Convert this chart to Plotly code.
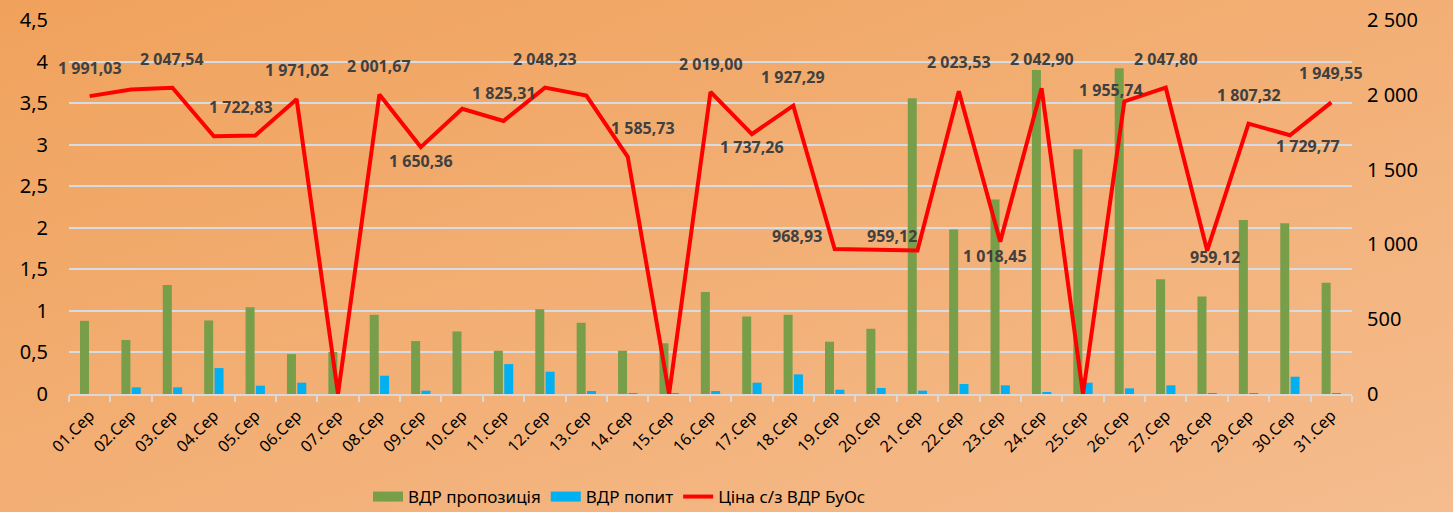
import base64
import plotly.graph_objects as go

# ---------------- data ----------------
days = [f"{d:02d}.Сер" for d in range(1, 32)]

supply = [0.88, 0.65, 1.31, 0.885, 1.045, 0.48, 0.505, 0.953, 0.637, 0.753,
          0.52, 1.02, 0.857, 0.52, 0.61, 1.226, 0.933, 0.953, 0.629, 0.785,
          3.557, 1.978, 2.339, 3.898, 2.945, 3.918, 1.382, 1.173, 2.095, 2.055,
          1.338]

demand = [0.0, 0.08, 0.08, 0.312, 0.10, 0.136, 0.0, 0.22, 0.04, 0.0,
          0.36, 0.268, 0.036, 0.005, 0.005, 0.036, 0.136, 0.236, 0.052, 0.072,
          0.04, 0.12, 0.104, 0.024, 0.136, 0.068, 0.104, 0.005, 0.005, 0.208,
          0.01]

price = [1991.03, 2036.0, 2047.54, 1722.83, 1728.0, 1971.02, 0.0, 2001.67, 1650.36, 1906.0,
         1825.31, 2048.23, 1995.0, 1585.73, 0.0, 2019.00, 1737.26, 1927.29, 968.93, 964.0,
         959.12, 2023.53, 1018.45, 2042.90, 0.0, 1955.74, 2047.80, 959.12, 1807.32, 1729.77,
         1949.55]

labeled_days = [1, 3, 4, 6, 8, 9, 11, 12, 14, 16, 17, 18, 19, 21, 22, 23, 24, 26,
                27, 28, 29, 30, 31]

left_ticks = [0, 0.5, 1, 1.5, 2, 2.5, 3, 3.5, 4, 4.5]
right_ticks = [0, 500, 1000, 1500, 2000, 2500]

series_names = ["ВДР пропозиція", "ВДР попит", "Ціна с/з ВДР БуОс"]

# label placement offsets (xshift, yshift) in px -- styling only
label_offsets = {
    1: (0, 28), 3: (0, 29), 4: (27, 29), 6: (0, 29), 8: (0, 29), 9: (0, -14),
    11: (0, 28), 12: (0, 29), 14: (15, 29), 16: (0, 28), 17: (0, -13),
    18: (0, 29), 19: (-38, 13), 21: (-25, 15), 22: (0, 29), 23: (-5, -14),
    24: (0, 29), 26: (-13, 11), 27: (0, 29), 28: (8, -6), 29: (0, 29),
    30: (18, -11), 31: (0, 29),
}

# ---------------- style ----------------
W, H = 1453, 512
ML, MR, MT, MB = 69, 101, 20, 118
PW, PH = W - ML - MR, H - MT - MB

GREEN = "#789E4A"
BLUE = "#00B0F0"
RED = "#FF0000"
FONT = "Noto Sans"


def fmt(v):
    s = f"{v:,.2f}"
    return s.replace(",", " ").replace(".", ",")


fig = go.Figure()

fig.add_trace(go.Bar(x=days, y=supply, name=series_names[0], marker_color=GREEN,
                     marker_line_width=0, showlegend=False, yaxis="y"))
fig.add_trace(go.Bar(x=days, y=demand, name=series_names[1], marker_color=BLUE,
                     marker_line_width=0, showlegend=False, yaxis="y"))

# legend swatches
fig.add_trace(go.Scatter(x=[days[0]], y=[None], mode="lines", name=series_names[0],
                         line=dict(color=GREEN, width=12), yaxis="y"))
fig.add_trace(go.Scatter(x=[days[0]], y=[None], mode="lines", name=series_names[1],
                         line=dict(color=BLUE, width=12), yaxis="y"))

fig.add_trace(go.Scatter(x=days, y=price, mode="lines", name=series_names[2],
                         line=dict(color=RED, width=4), yaxis="y2", cliponaxis=False))

annotations = []
for d in labeled_days:
    xs, ys = label_offsets[d]
    annotations.append(dict(
        x=days[d - 1], y=price[d - 1], xref="x", yref="y2",
        text=f"<b>{fmt(price[d - 1])}</b>", showarrow=False,
        xshift=xs, yshift=ys,
        font=dict(family=FONT, size=16, color="#404040"),
    ))

svg = (
    f'<svg xmlns="http://www.w3.org/2000/svg" width="{W}" height="{H}">'
    '<defs><linearGradient id="g" x1="0" y1="0" x2="1" y2="1">'
    '<stop offset="0" stop-color="#F0A25C"/>'
    '<stop offset="1" stop-color="#F5BC8E"/>'
    '</linearGradient></defs>'
    f'<rect width="{W}" height="{H}" fill="url(#g)"/></svg>'
)
bg_src = "data:image/svg+xml;base64," + base64.b64encode(svg.encode()).decode()

fig.update_layout(
    width=W, height=H,
    margin=dict(l=ML, r=MR, t=MT, b=MB, pad=0, autoexpand=False),
    paper_bgcolor="#F2AE73",
    plot_bgcolor="rgba(0,0,0,0)",
    separators=", ",
    barmode="group",
    bargap=0.5,
    bargroupgap=0.13,
    font=dict(family=FONT, color="#000000"),
    images=[dict(source=bg_src, xref="paper", yref="paper",
                 x=-ML / PW, y=1 + MT / PH, sizex=W / PW, sizey=H / PH,
                 xanchor="left", yanchor="top", sizing="stretch", layer="below")],
    xaxis=dict(
        type="category", range=[-0.5, len(days) - 0.5],
        tickangle=-45, tickfont=dict(size=16, color="#000000"),
        showgrid=False, showline=True, linecolor="#D9D9D9", linewidth=2,
        ticks="outside", tickson="boundaries", ticklen=6, tickcolor="#D9D9D9",
        tickwidth=2, ticklabelstandoff=4, automargin=False,
    ),
    yaxis=dict(
        range=[0, 4.5], tickvals=left_ticks, showgrid=True, gridcolor="#D5DCE4",
        gridwidth=1.5, zeroline=False, showline=False,
        tickfont=dict(size=20, color="#000000"), ticklabelstandoff=20,
        automargin=False,
    ),
    yaxis2=dict(
        range=[0, 2500], tickvals=right_ticks, overlaying="y", side="right",
        showgrid=False, zeroline=False, showline=False, separatethousands=True,
        tickfont=dict(size=20, color="#000000"), ticklabelstandoff=14,
        automargin=False,
    ),
    legend=dict(
        orientation="h", xref="container", yref="container",
        x=368 / W, xanchor="left", y=(H - 497) / H, yanchor="middle",
        font=dict(size=17, color="#000000"), bgcolor="rgba(0,0,0,0)",
        traceorder="normal", itemwidth=30,
    ),
    annotations=annotations,
)

fig.write_html(
    "out.html",
    config={"displayModeBar": False},
    post_script="document.body.style.margin='0';document.body.style.overflow='hidden';",
)
